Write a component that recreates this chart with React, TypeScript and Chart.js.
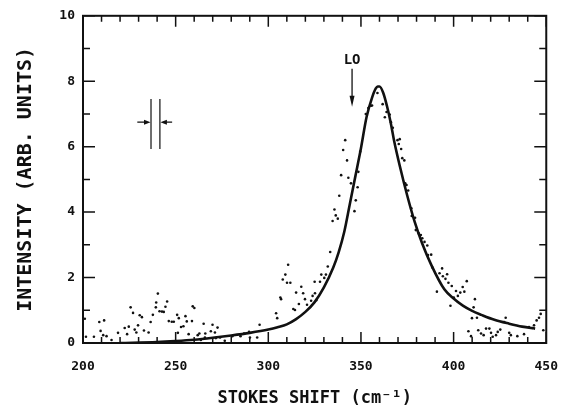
import React, { useEffect, useRef } from "react";
import { Chart, registerables } from "chart.js";

Chart.register(...registerables);

// ---- axes ----
const X_MIN = 200;
const X_MAX = 450;
const X_MAJOR = 50;
const X_MINOR = 10;
const Y_MIN = 0;
const Y_MAX = 10;
const Y_MAJOR = 2;
const Y_MINOR = 1;
const X_TITLE = "STOKES SHIFT (cm\u207B\u00B9)";
const Y_TITLE = "INTENSITY (ARB. UNITS)";

// ---- measured points (Stokes shift, intensity) ----
const DOT_X = [
  201.0, 201.6, 205.9, 208.8, 209.5, 210.9, 211.4, 212.7, 215.4, 218.9,
  222.5, 223.8, 224.7, 225.7, 227.0, 227.9, 228.8, 229.7, 230.6, 231.8,
  232.9, 235.4, 236.5, 237.7, 239.3, 239.5, 240.4, 241.3, 242.6, 243.6,
  244.5, 245.4, 246.3, 247.9, 249.0, 250.8, 251.2, 251.7, 252.9, 254.2,
  255.3, 256.0, 257.0, 258.8, 259.2, 260.1, 261.9, 262.8, 263.6, 265.1,
  265.8, 266.0, 269.0, 269.9, 271.2, 271.7, 272.6, 274.0, 276.5, 280.6,
  285.0, 286.9, 289.6, 290.1, 294.0, 295.3, 304.2, 304.8, 306.5, 306.9,
  307.8, 309.2, 310.1, 310.7, 311.9, 313.5, 314.4, 315.0, 316.5, 317.8,
  318.8, 319.8, 320.9, 323.1, 323.9, 325.0, 325.2, 325.9, 327.9, 328.6,
  330.2, 331.1, 332.1, 333.4, 334.7, 335.7, 336.4, 337.5, 338.3, 339.3,
  340.4, 341.5, 342.5, 343.2, 344.6, 346.5, 347.2, 348.2, 348.6, 349.6,
  352.6, 354.0, 355.4, 356.0, 358.9, 361.7, 362.9, 363.8, 365.5, 366.2,
  367.2, 369.7, 370.4, 370.9, 371.7, 372.3, 373.4, 373.9, 374.6, 375.5,
  377.2, 377.4, 379.2, 379.6, 381.2, 382.3, 383.1, 384.3, 385.8, 386.2,
  387.9, 388.5, 391.0, 392.4, 393.8, 394.2, 395.6, 396.5, 397.2, 398.3,
  399.0, 400.1, 401.3, 402.3, 403.6, 404.9, 405.8, 407.1, 408.0, 409.4,
  409.9, 410.8, 411.5, 412.6, 413.3, 414.8, 416.2, 417.5, 419.3, 420.2,
  421.1, 422.9, 423.8, 425.2, 427.3, 428.1, 430.0, 430.9, 434.4, 438.0,
  440.7, 442.5, 443.4, 444.8, 446.1, 447.0, 448.4,
];
const DOT_Y = [
  0.74, 0.19, 0.19, 0.64, 0.37, 0.24, 0.69, 0.21, 0.09, 0.31,
  0.46, 0.27, 0.50, 1.09, 0.92, 0.41, 0.32, 0.54, 0.85, 0.79,
  0.38, 0.32, 0.64, 0.86, 1.09, 1.24, 1.51, 0.97, 0.96, 0.95,
  1.11, 1.27, 0.67, 0.65, 0.65, 0.86, 0.31, 0.76, 0.49, 0.51,
  0.82, 0.66, 0.27, 0.67, 1.12, 1.07, 0.24, 0.29, 0.09, 0.59,
  0.17, 0.29, 0.36, 0.56, 0.32, 0.15, 0.47, 0.17, 0.07, 0.21,
  0.21, 0.29, 0.34, 0.17, 0.17, 0.56, 0.91, 0.76, 1.39, 1.34,
  1.94, 2.09, 1.84, 2.39, 1.84, 1.04, 1.01, 1.54, 1.19, 1.72,
  1.52, 1.34, 1.17, 1.29, 1.44, 1.87, 1.52, 1.31, 1.87, 2.09,
  1.99, 2.09, 2.34, 2.78, 3.73, 4.08, 3.90, 3.80, 4.50, 5.13,
  5.90, 6.20, 5.58, 5.05, 4.88, 4.03, 4.36, 4.76, 5.23, 5.85,
  7.00, 7.18, 7.25, 7.26, 7.64, 7.30, 6.90, 7.06, 6.98, 6.75,
  6.58, 6.20, 6.08, 6.23, 5.93, 5.65, 5.58, 4.88, 4.83, 4.66,
  4.12, 3.88, 3.83, 3.45, 3.35, 3.30, 3.20, 3.09, 2.98, 2.69,
  2.70, 2.31, 1.57, 2.13, 2.28, 2.04, 1.96, 2.10, 1.84, 1.14,
  1.74, 1.39, 1.59, 1.44, 1.54, 1.71, 1.57, 1.89, 0.36, 0.21,
  0.76, 1.09, 1.34, 0.77, 0.39, 0.29, 0.24, 0.44, 0.44, 0.31,
  0.19, 0.24, 0.34, 0.41, 0.64, 0.77, 0.31, 0.24, 0.21, 0.27,
  0.49, 0.46, 0.54, 0.69, 0.77, 0.89, 0.39,
];

// ---- fitted curve ----
const CURVE_X = [
  220, 240, 250, 260, 270, 280, 290, 300, 305, 310, 315, 320, 325, 330, 335,
  338, 341, 344, 347, 350, 353, 356, 358, 359, 360, 362, 364, 366, 368, 371,
  375, 379, 383, 388, 395, 400, 405, 410, 415, 422, 430, 437, 444,
];
const CURVE_Y = [
  0.0, 0.03, 0.06, 0.1, 0.16, 0.23, 0.31, 0.41, 0.48, 0.57, 0.73, 0.95, 1.25, 1.7, 2.3,
  2.78, 3.4, 4.25, 5.1, 5.95, 6.9, 7.5, 7.78, 7.84, 7.84, 7.65, 7.25, 6.75, 6.15, 5.4,
  4.5, 3.7, 3.05, 2.38, 1.64, 1.36, 1.14, 0.98, 0.86, 0.71, 0.59, 0.5, 0.44,
];

// ---- annotations (data units) ----
const LO_LABEL = "LO";
const LO_X = 345.2;
const LO_TEXT_Y = 8.65;
const LO_ARROW_TOP = 8.38;
const LO_ARROW_TIP = 7.22;
const RES_LEFT = 236.7;
const RES_RIGHT = 241.5;
const RES_TOP = 7.46;
const RES_BOTTOM = 5.93;
const RES_ARROW_Y = 6.75;
const RES_TAIL_LEFT = 229.3;
const RES_TAIL_RIGHT = 248.1;

// target plot-area box inside the 574x411 canvas
const AREA = { left: 83, top: 9, right: 549, bottom: 343 };

const FONT = "'DejaVu Sans Mono', monospace";
const INK = "#111";

const framePlugin = {
  id: "frameTicks",
  afterDatasetsDraw(chart: any) {
    const { ctx, chartArea } = chart;
    const xs = chart.scales.x;
    const ys = chart.scales.y;
    const { left, right, top, bottom } = chartArea;
    ctx.save();
    ctx.strokeStyle = INK;
    ctx.fillStyle = INK;
    ctx.lineWidth = 2;
    ctx.strokeRect(left, top, right - left, bottom - top);
    ctx.lineWidth = 1.5;
    ctx.beginPath();
    for (let v = X_MIN; v <= X_MAX + 1e-6; v += X_MINOR) {
      const p = xs.getPixelForValue(v);
      const len = Math.abs(v % X_MAJOR) < 1e-6 ? 11 : 6;
      ctx.moveTo(p, bottom);
      ctx.lineTo(p, bottom - len);
      ctx.moveTo(p, top);
      ctx.lineTo(p, top + len);
    }
    for (let v = Y_MIN; v <= Y_MAX + 1e-6; v += Y_MINOR) {
      const p = ys.getPixelForValue(v);
      const len = Math.abs(v % Y_MAJOR) < 1e-6 ? 12 : 7;
      ctx.moveTo(left, p);
      ctx.lineTo(left + len, p);
      ctx.moveTo(right, p);
      ctx.lineTo(right - len, p);
    }
    ctx.stroke();

    // LO label + arrow
    const lx = xs.getPixelForValue(LO_X);
    ctx.font = "bold 14px " + FONT;
    ctx.textAlign = "center";
    ctx.textBaseline = "middle";
    ctx.fillText(LO_LABEL, lx, ys.getPixelForValue(LO_TEXT_Y));
    const aTop = ys.getPixelForValue(LO_ARROW_TOP);
    const aTip = ys.getPixelForValue(LO_ARROW_TIP);
    ctx.lineWidth = 1.3;
    ctx.beginPath();
    ctx.moveTo(lx, aTop);
    ctx.lineTo(lx, aTip - 8);
    ctx.stroke();
    ctx.beginPath();
    ctx.moveTo(lx, aTip);
    ctx.lineTo(lx - 2.5, aTip - 11);
    ctx.lineTo(lx + 2.5, aTip - 11);
    ctx.closePath();
    ctx.fill();

    // resolution marker
    const r1 = xs.getPixelForValue(RES_LEFT);
    const r2 = xs.getPixelForValue(RES_RIGHT);
    const rt = ys.getPixelForValue(RES_TOP);
    const rb = ys.getPixelForValue(RES_BOTTOM);
    const ay = ys.getPixelForValue(RES_ARROW_Y);
    const t1 = xs.getPixelForValue(RES_TAIL_LEFT);
    const t2 = xs.getPixelForValue(RES_TAIL_RIGHT);
    ctx.lineWidth = 1.2;
    ctx.beginPath();
    ctx.moveTo(r1, rt);
    ctx.lineTo(r1, rb);
    ctx.moveTo(r2, rt);
    ctx.lineTo(r2, rb);
    ctx.moveTo(t1, ay);
    ctx.lineTo(r1 - 4, ay);
    ctx.moveTo(t2, ay);
    ctx.lineTo(r2 + 4, ay);
    ctx.stroke();
    ctx.beginPath();
    ctx.moveTo(r1 - 0.5, ay);
    ctx.lineTo(r1 - 7, ay - 2.5);
    ctx.lineTo(r1 - 7, ay + 2.5);
    ctx.closePath();
    ctx.moveTo(r2 + 0.5, ay);
    ctx.lineTo(r2 + 7, ay - 2.5);
    ctx.lineTo(r2 + 7, ay + 2.5);
    ctx.closePath();
    ctx.fill();
    ctx.restore();
  },
};

export default function App() {
  const ref = useRef<HTMLCanvasElement | null>(null);
  useEffect(() => {
    if (!ref.current) return;
    const dots = DOT_X.map((x, i) => ({ x, y: DOT_Y[i] }));
    const curve = CURVE_X.map((x, i) => ({ x, y: CURVE_Y[i] }));
    const chart: any = new Chart(ref.current, {
      type: "scatter",
      data: {
        datasets: [
          {
            label: "data",
            data: dots,
            pointRadius: 1.3,
            pointBorderWidth: 0,
            pointBackgroundColor: INK,
            showLine: false,
          },
          {
            label: "fit",
            data: curve,
            showLine: true,
            borderColor: INK,
            borderWidth: 2.6,
            pointRadius: 0,
            cubicInterpolationMode: "monotone",
            fill: false,
          },
        ],
      },
      options: {
        animation: false,
        responsive: false,
        events: [],
        plugins: { legend: { display: false }, tooltip: { enabled: false } },
        layout: { padding: { left: 0, top: 0, right: 0, bottom: 0 } },
        scales: {
          x: {
            type: "linear",
            position: "bottom",
            min: X_MIN,
            max: X_MAX,
            grid: { display: false, drawTicks: false },
            border: { display: false },
            ticks: {
              stepSize: X_MAJOR,
              color: INK,
              padding: 16,
              maxRotation: 0,
              font: { family: FONT, size: 13, weight: "bold" },
            },
            title: {
              display: true,
              text: X_TITLE,
              color: INK,
              font: { family: FONT, size: 17, weight: "bold" },
              padding: { top: 0, bottom: 2 },
            },
            afterFit: (s: any) => {
              s.height = 411 - AREA.bottom;
            },
          },
          xTop: {
            type: "linear",
            position: "top",
            min: X_MIN,
            max: X_MAX,
            grid: { display: false, drawTicks: false },
            border: { display: false },
            ticks: { display: false },
            afterFit: (s: any) => {
              s.height = AREA.top;
            },
          },
          y: {
            type: "linear",
            position: "left",
            min: Y_MIN,
            max: Y_MAX,
            grid: { display: false, drawTicks: false },
            border: { display: false },
            ticks: {
              stepSize: Y_MAJOR,
              color: INK,
              padding: 8,
              font: { family: FONT, size: 13, weight: "bold" },
            },
            title: {
              display: true,
              text: Y_TITLE,
              color: INK,
              font: { family: FONT, size: 20, weight: "bold" },
              padding: { top: 14, bottom: 0 },
            },
            afterFit: (s: any) => {
              s.width = AREA.left;
            },
          },
          yRight: {
            type: "linear",
            position: "right",
            min: Y_MIN,
            max: Y_MAX,
            grid: { display: false, drawTicks: false },
            border: { display: false },
            ticks: { display: false },
            afterFit: (s: any) => {
              s.width = 574 - AREA.right;
            },
          },
        },
      },
      plugins: [framePlugin],
    });
    // correct any extra space the layout added so the plot box matches the target
    const ca = chart.chartArea;
    const pad = {
      left: AREA.left - ca.left,
      top: AREA.top - ca.top,
      right: ca.right - AREA.right,
      bottom: ca.bottom - AREA.bottom,
    };
    if (pad.left || pad.top || pad.right || pad.bottom) {
      chart.options.layout.padding = pad;
      chart.update();
    }
    return () => chart.destroy();
  }, []);
  return (
    <div style={{ position: "fixed", left: 0, top: 0, width: 574, height: 411, background: "#fff" }}>
      <canvas ref={ref} width={574} height={411} style={{ display: "block" }} />
    </div>
  );
}
